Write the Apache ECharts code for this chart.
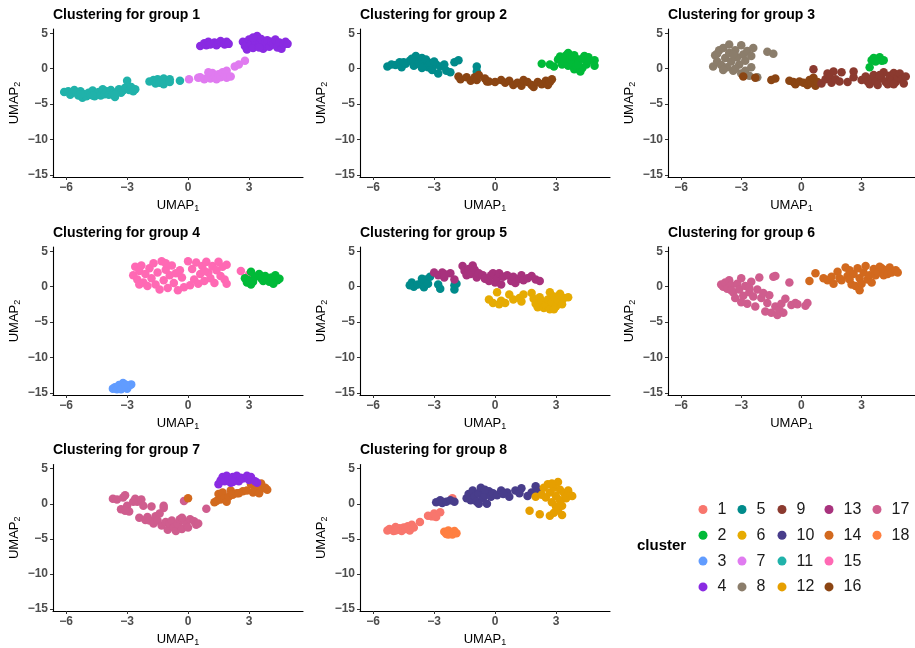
<!DOCTYPE html>
<html>
<head>
<meta charset="utf-8">
<script src="https://cdn.jsdelivr.net/npm/echarts@6/dist/echarts.min.js"></script>
<style>
html,body{margin:0;padding:0;background:#fff;}
#chart{width:915px;height:648px;}
</style>
</head>
<body>
<div id="chart"></div>
<script>
// ---------- DATA ----------
const clusterIds = ['1','2','3','4','5','6','7','8','9','10','11','12','13','14','15','16','17','18'];
const clusterColors = ['#F8766D','#00BA38','#619CFF','#8A2BE2','#008B8B','#E6AB02','#E07BF0','#8B7D6B','#8B3A2F','#483D8B','#20B2AA','#E69F00','#A8327D','#D2691E','#FF69B4','#8B4513','#CF5D8E','#FF7F40'];
const groupTitles = ['Clustering for group 1','Clustering for group 2','Clustering for group 3','Clustering for group 4','Clustering for group 5','Clustering for group 6','Clustering for group 7','Clustering for group 8'];
const xTicks = [-6,-3,0,3];
const yTicks = [-15,-10,-5,0,5];

// group 1
const g1_c11 = [[-6.1,-3.3],[-5.9,-3.2],[-5.8,-3.7],[-5.6,-3.0],[-5.5,-3.4],[-5.4,-3.8],[-5.3,-3.2],[-5.2,-4.1],[-5.1,-3.6],[-5.0,-3.9],[-4.9,-3.4],[-4.8,-3.7],[-4.7,-3.1],[-4.6,-3.9],[-4.5,-3.5],[-4.4,-3.3],[-4.3,-3.8],[-4.2,-2.9],[-4.1,-3.6],[-4.0,-3.2],[-3.9,-3.7],[-3.8,-3.0],[-3.7,-3.5],[-3.6,-4.0],[-3.5,-3.3],[-3.4,-2.9],[-3.3,-3.4],[-3.2,-3.1],[-3.1,-2.7],[-3.0,-1.7],[-2.9,-3.0],[-2.8,-2.6],[-2.7,-3.2],[-2.6,-2.9],[-3.6,-3.6],[-4.7,-3.8],[-5.3,-3.6],[-1.9,-1.8],[-1.7,-1.6],[-1.6,-2.1],[-1.5,-1.5],[-1.4,-2.0],[-1.3,-1.7],[-1.2,-1.4],[-1.2,-2.2],[-0.9,-1.5],[-0.9,-1.9],[-0.4,-1.7]];
const g1_c7 = [[0.05,-1.5],[0.5,-1.3],[0.8,-1.5],[1.0,-1.1],[1.1,-1.4],[1.2,-0.6],[1.3,-1.0],[1.4,-1.5],[1.5,-0.8],[1.6,-1.2],[1.7,-0.5],[1.8,-1.0],[1.9,-0.3],[1.9,-1.3],[2.1,-1.1],[2.3,0.3],[2.5,0.6],[2.8,1.1],[1.0,-0.5],[0.6,-1.2]];
const g1_c4 = [[0.6,3.2],[0.8,3.6],[0.9,3.3],[1.0,3.8],[1.1,3.4],[1.3,3.7],[1.4,3.3],[1.5,3.6],[1.6,3.9],[1.8,3.4],[1.9,3.8],[2.0,3.5],[2.7,3.8],[2.8,3.2],[2.9,2.7],[3.0,4.1],[3.1,3.5],[3.2,2.9],[3.3,3.9],[3.4,4.6],[3.5,3.3],[3.6,4.2],[3.7,2.8],[3.8,3.6],[3.9,4.0],[4.0,3.1],[4.1,3.8],[4.2,3.4],[4.3,4.1],[4.4,3.0],[4.5,3.7],[4.6,2.8],[4.7,3.4],[4.8,3.8],[4.9,3.5],[3.5,3.0],[3.2,4.4]];
// group 2
const g2_c5 = [[-5.3,0.3],[-5.1,0.6],[-4.9,0.5],[-4.7,0.9],[-4.6,0.2],[-4.4,0.7],[-4.2,1.1],[-4.0,0.4],[-3.9,1.8],[-3.8,1.0],[-3.7,0.6],[-3.6,1.5],[-3.5,0.9],[-3.4,1.3],[-3.3,0.2],[-3.2,0.8],[-3.1,-0.2],[-2.9,0.6],[-2.8,-0.7],[-2.7,0.3],[-2.5,0.6],[-2.4,-0.3],[-2.2,-0.5],[-2.0,0.9],[-1.8,1.2],[-0.9,0.3],[-0.9,-0.4],[-4.1,1.4],[-3.6,0.1],[-3.0,1.0],[-4.5,0.9]];
const g2_c16 = [[-1.8,-1.1],[-1.7,-1.5],[-1.4,-1.2],[-1.2,-1.7],[-1.0,-1.2],[-0.9,-1.6],[-0.8,-0.9],[-0.5,-1.4],[-0.3,-1.8],[0.3,-1.6],[0.5,-2.0],[0.7,-1.7],[0.9,-2.3],[1.1,-2.0],[1.3,-2.4],[1.4,-1.6],[1.6,-1.9],[1.8,-2.3],[1.9,-2.6],[2.1,-1.9],[2.3,-2.2],[2.5,-1.7],[2.6,-2.3],[2.7,-1.9],[2.8,-1.5],[-0.4,-1.8],[0.0,-1.9]];
const g2_c2 = [[2.3,0.7],[2.7,0.6],[2.9,0.3],[3.1,1.3],[3.2,1.7],[3.3,0.6],[3.4,1.0],[3.5,1.9],[3.6,2.2],[3.6,0.4],[3.7,1.4],[3.8,0.9],[3.9,1.9],[3.9,-0.1],[4.0,0.4],[4.1,1.3],[4.2,-0.4],[4.3,0.1],[4.4,1.8],[4.5,0.6],[4.6,1.1],[4.9,1.2],[4.9,0.4],[4.1,0.6],[3.8,1.7],[4.3,1.4],[4.6,1.6]];
// group 3
const g3_c8 = [[-4.4,0.3],[-4.3,1.9],[-4.2,1.0],[-4.1,2.6],[-4.0,0.5],[-3.9,2.9],[-3.8,1.5],[-3.7,0.2],[-3.6,3.4],[-3.6,2.2],[-3.5,1.0],[-3.4,-0.3],[-3.3,2.6],[-3.2,1.6],[-3.1,0.6],[-3.0,3.3],[-3.0,-0.7],[-2.9,2.0],[-2.8,1.1],[-2.8,-0.3],[-2.7,2.5],[-2.6,-1.0],[-2.5,0.2],[-2.4,2.9],[-2.2,-1.2],[-1.7,2.4],[-1.4,2.1],[-3.9,-0.2],[-3.4,2.0],[-2.5,1.8],[-4.2,2.1],[-3.3,0.0]];
const g3_c16 = [[-2.9,-1.1],[-2.3,-1.3],[-1.5,-1.6],[-1.3,-1.4],[-0.6,-1.7],[-0.4,-1.9],[-0.3,-2.2],[-0.1,-1.8],[0.1,-2.0],[0.3,-2.3],[0.4,-1.6],[0.5,-2.0],[0.7,-2.4],[0.6,-1.3],[0.8,-1.9]];
const g3_c9 = [[0.6,-0.1],[1.0,-2.1],[1.2,-1.5],[1.3,-0.7],[1.4,-1.1],[1.5,-2.0],[1.6,-0.4],[1.7,-1.5],[1.9,-1.8],[2.0,-0.5],[2.3,-1.9],[2.6,-0.4],[2.6,-1.2],[3.0,-1.6],[3.2,-1.1],[3.3,-1.8],[3.4,-2.2],[3.5,-1.4],[3.6,-0.9],[3.7,-1.8],[3.8,-2.3],[4.0,-1.4],[4.1,-0.5],[4.2,-1.9],[4.3,-2.2],[4.4,-1.0],[4.5,-1.6],[4.6,-0.6],[4.7,-1.9],[4.8,-1.2],[4.9,-0.7],[5.0,-1.5],[5.1,-2.1],[5.2,-1.1],[4.6,-2.2],[3.9,-0.9]];
const g3_c2 = [[3.4,0.2],[3.5,1.2],[3.6,1.5],[3.8,1.3],[3.9,1.6],[4.0,1.1],[4.1,1.2],[3.7,1.0]];
// group 4
const g4_c15 = [[-2.7,1.6],[-2.6,2.8],[-2.5,1.0],[-2.4,2.2],[-2.3,3.0],[-2.2,0.6],[-2.1,1.8],[-2.0,0.1],[-1.9,2.6],[-1.8,1.2],[-1.7,3.3],[-1.6,0.3],[-1.5,2.0],[-1.4,-0.4],[-1.3,3.6],[-1.2,0.9],[-1.1,2.4],[-1.0,-0.2],[-0.9,1.6],[-0.8,3.0],[-0.7,0.5],[-0.6,1.9],[-0.5,-0.5],[-0.4,2.3],[-0.3,1.3],[-0.2,-0.1],[0.0,3.6],[0.1,0.2],[0.2,2.5],[0.3,1.0],[0.4,3.4],[0.5,0.4],[0.6,1.8],[0.7,2.9],[0.8,0.8],[0.9,3.5],[1.0,2.0],[1.1,1.2],[1.2,2.9],[1.3,0.5],[1.4,2.3],[1.5,3.5],[1.6,1.5],[1.7,2.8],[1.8,1.0],[1.9,3.1],[1.9,0.4],[2.6,2.2],[3.0,1.7],[-2.4,0.3],[-1.1,3.3],[0.8,2.2]];
const g4_c2 = [[2.8,1.2],[2.9,0.6],[3.0,0.9],[3.1,2.1],[3.1,0.3],[3.3,1.4],[3.5,1.8],[3.6,1.2],[3.7,0.8],[3.8,1.5],[3.9,1.1],[4.0,0.7],[4.1,1.3],[4.2,1.0],[4.3,1.6],[4.4,0.9],[4.5,1.1],[3.2,0.7],[4.2,0.4]];
const g4_c3 = [[-3.7,-14.4],[-3.6,-14.2],[-3.5,-14.5],[-3.4,-13.9],[-3.3,-14.3],[-3.2,-13.6],[-3.1,-14.1],[-3.0,-14.4],[-2.9,-14.0],[-2.8,-13.8],[-3.3,-14.5],[-3.1,-13.8]];
// group 5
const g5_c5 = [[-4.2,0.2],[-4.1,0.6],[-4.0,0.0],[-3.8,0.3],[-3.6,0.5],[-3.5,-0.1],[-3.4,1.0],[-3.3,0.4],[-3.2,1.4],[-2.8,0.3],[-2.7,-0.3],[-2.0,0.2],[-2.0,-0.4],[-3.6,1.1],[-1.9,0.4]];
const g5_c13 = [[-3.0,2.0],[-2.8,1.6],[-2.6,2.0],[-2.5,1.3],[-2.2,1.9],[-2.0,1.0],[-1.6,2.9],[-1.5,2.2],[-1.4,1.6],[-1.3,2.5],[-1.2,1.8],[-1.1,3.0],[-1.0,2.4],[-0.9,1.3],[-0.8,1.9],[-0.6,1.6],[-0.5,1.1],[-0.3,0.8],[-0.2,1.6],[-0.1,1.9],[0.0,0.6],[0.1,1.2],[0.2,1.9],[0.3,0.3],[0.4,1.4],[0.6,1.6],[0.8,0.8],[0.9,1.4],[1.0,0.5],[1.2,1.1],[1.3,1.6],[1.4,0.9],[1.6,1.2],[1.8,1.5],[2.0,1.0],[2.2,0.8],[-2.5,1.8]];
const g5_c6 = [[-0.3,-1.8],[-0.1,-2.3],[0.1,-0.8],[0.2,-2.5],[0.3,-2.0],[0.5,-2.3],[0.7,-1.1],[0.9,-1.8],[1.2,-1.6],[1.3,-2.1],[1.4,-1.1],[1.8,-0.9],[1.9,-1.7],[2.0,-2.4],[2.1,-2.9],[2.2,-1.5],[2.3,-2.1],[2.4,-3.0],[2.5,-2.6],[2.6,-1.8],[2.7,-3.2],[2.7,-0.8],[2.8,-2.2],[2.9,-1.4],[3.0,-2.8],[3.1,-1.9],[3.2,-1.0],[3.3,-2.5],[3.4,-1.6],[3.6,-1.5],[2.9,-3.2],[3.2,-1.3]];
// group 6
const g6_c17 = [[-4.0,0.3],[-3.9,0.0],[-3.8,0.6],[-3.7,-0.3],[-3.6,0.9],[-3.5,0.2],[-3.4,-0.8],[-3.3,-1.6],[-3.2,0.4],[-3.1,-0.4],[-3.0,1.2],[-2.9,-1.3],[-2.8,0.1],[-2.7,-2.4],[-2.6,-0.8],[-2.5,0.7],[-2.4,-1.4],[-2.3,-2.8],[-2.2,-0.4],[-2.1,1.3],[-2.0,-1.6],[-1.9,-0.9],[-1.8,-3.5],[-1.7,-2.3],[-1.6,-1.2],[-1.5,-3.7],[-1.4,1.4],[-1.3,-2.8],[-1.2,-4.0],[-1.1,-3.3],[-1.0,-2.4],[-0.9,-3.7],[-0.8,-1.7],[-0.6,0.6],[-0.5,-2.6],[-0.3,-2.3],[-0.2,-2.5],[0.2,-2.7],[0.3,-2.3],[-1.3,1.5],[-2.6,-0.2],[-3.5,-0.5],[-3.0,-2.2]];
const g6_c14 = [[0.4,0.8],[0.7,1.9],[1.1,1.2],[1.3,0.9],[1.5,1.4],[1.6,0.4],[1.8,2.1],[1.9,1.2],[2.0,0.9],[2.2,2.7],[2.3,1.5],[2.4,2.3],[2.5,0.3],[2.6,1.8],[2.7,0.1],[2.8,2.6],[2.9,-0.5],[2.9,1.2],[3.0,0.4],[3.1,2.0],[3.2,2.9],[3.3,1.0],[3.4,1.6],[3.5,0.6],[3.6,2.5],[3.7,1.6],[3.8,2.0],[4.0,2.6],[4.1,1.6],[4.2,2.3],[4.3,1.8],[4.4,2.7],[4.5,2.0],[4.7,2.3],[4.8,2.0],[3.9,2.8],[2.4,1.0]];
// group 7
const g7_c17 = [[-3.7,0.7],[-3.5,0.6],[-3.3,-0.8],[-3.2,0.9],[-3.1,1.2],[-3.0,-0.3],[-2.9,-1.1],[-2.6,0.7],[-2.5,0.3],[-2.4,-2.0],[-2.3,0.6],[-2.2,-0.3],[-2.1,-2.3],[-2.0,-1.9],[-1.9,-2.4],[-1.8,-0.4],[-1.7,-2.8],[-1.6,-1.8],[-1.5,-2.4],[-1.4,-1.4],[-1.3,-3.1],[-1.2,-0.6],[-1.1,-2.6],[-1.0,-3.7],[-0.9,-2.8],[-0.8,-2.4],[-0.7,-3.4],[-0.6,-3.9],[-0.5,-2.9],[-0.4,-2.2],[-0.3,-3.6],[-0.2,0.4],[-0.1,-2.7],[0.0,-3.4],[0.1,-2.2],[0.3,-2.5],[0.4,-3.0],[0.5,-2.8],[-0.3,-2.0],[-1.2,-0.3],[-2.7,0.3],[-3.1,-1.0],[0.9,-0.7]];
const g7_c14 = [[0.0,0.8],[1.3,0.2],[1.4,0.4],[1.5,1.4],[1.6,0.6],[1.7,1.6],[1.8,0.8],[1.9,0.3],[2.0,1.0],[2.1,1.9],[2.2,1.3],[2.4,1.5],[2.7,1.8],[2.9,1.9],[3.1,2.8],[3.2,1.6],[3.3,2.1],[3.4,2.6],[3.5,1.5],[3.6,2.9],[3.7,2.2],[3.8,2.3],[3.9,2.0],[2.5,1.5]];
const g7_c4 = [[1.5,2.8],[1.6,3.3],[1.7,3.8],[1.8,3.2],[1.9,4.0],[2.0,3.5],[2.1,3.0],[2.2,3.8],[2.3,3.4],[2.4,4.0],[2.5,3.2],[2.6,3.7],[2.7,3.6],[2.9,4.0],[3.0,3.4],[3.1,3.8],[3.3,3.2],[3.4,3.0],[2.2,3.1]];
// group 8
const g8_c1 = [[-5.3,-3.8],[-5.2,-3.6],[-5.0,-3.9],[-4.9,-3.3],[-4.8,-3.7],[-4.7,-3.5],[-4.6,-3.9],[-4.5,-3.4],[-4.4,-3.6],[-4.3,-3.2],[-4.2,-3.8],[-4.1,-3.0],[-4.0,-3.4],[-3.7,-2.6],[-3.3,-1.7],[-3.1,-1.8],[-3.0,-1.4],[-2.9,-1.9],[-2.7,-1.2],[-2.1,0.8],[-4.9,-3.8]];
const g8_c18 = [[-2.5,-4.0],[-2.4,-4.3],[-2.3,-3.8],[-2.2,-4.1],[-2.1,-4.4],[-2.0,-3.9],[-1.9,-4.2],[-2.3,-4.4]];
const g8_c10 = [[-2.9,0.2],[-2.7,0.5],[-2.6,0.1],[-2.4,0.3],[-2.2,0.5],[-2.0,0.3],[-1.4,0.8],[-1.3,1.4],[-1.2,0.5],[-1.1,1.9],[-1.0,1.0],[-0.9,0.3],[-0.8,1.5],[-0.7,2.3],[-0.6,0.8],[-0.5,1.2],[-0.4,0.0],[-0.3,1.8],[-0.2,1.0],[-0.1,1.5],[0.1,1.2],[0.3,1.9],[0.6,1.6],[0.7,1.0],[1.0,1.9],[1.2,1.5],[1.3,2.2],[1.6,1.1],[1.8,1.6],[2.0,2.5],[2.1,1.8],[-0.8,0.0],[-0.5,2.0],[0.4,1.4]];
const g8_c12 = [[1.7,-1.0],[2.2,-1.5],[2.0,1.0],[2.3,1.3],[2.4,2.3],[2.5,0.9],[2.6,2.8],[2.7,1.6],[2.7,-1.7],[2.8,0.2],[2.9,2.3],[2.9,-1.3],[3.0,1.1],[3.1,3.1],[3.1,-0.9],[3.2,0.5],[3.2,2.0],[3.3,-0.3],[3.3,-1.6],[3.4,1.5],[3.5,0.8],[3.6,1.9],[3.7,1.2],[3.8,1.1],[3.0,-0.4],[2.8,2.9]];

const panelClusters = [
  [['11', g1_c11], ['7', g1_c7], ['4', g1_c4]],
  [['5', g2_c5], ['16', g2_c16], ['2', g2_c2]],
  [['8', g3_c8], ['16', g3_c16], ['9', g3_c9], ['2', g3_c2]],
  [['15', g4_c15], ['2', g4_c2], ['3', g4_c3]],
  [['5', g5_c5], ['13', g5_c13], ['6', g5_c6]],
  [['17', g6_c17], ['14', g6_c14]],
  [['17', g7_c17], ['14', g7_c14], ['4', g7_c4]],
  [['1', g8_c1], ['18', g8_c18], ['10', g8_c10], ['12', g8_c12]]
];
const legendColumns = [['1','2','3','4'],['5','6','7','8'],['9','10','11','12'],['13','14','15','16'],['17','18']];

// ---------- LAYOUT ----------
const FONT = '"Liberation Sans", Arial, Helvetica, sans-serif';
const colLeft = [53, 360, 668];
const colWidth = [250, 250, 247];
const rowTop = [29, 247, 464.5];
const gridH = 148;
const X_MIN = -6.65, X_MAX = 5.66, Y_MIN = -15.3, Y_MAX = 5.6;
const fmt = v => (v < 0 ? '\u2212' + Math.abs(v) : String(v));

const grids = [], xAxes = [], yAxes = [], titles = [], series = [];
const colorOf = id => clusterColors[clusterIds.indexOf(id)];
const usedIds = new Set();

panelClusters.forEach((clusters, i) => {
  const r = Math.floor(i / 3), c = i % 3;
  grids.push({ left: colLeft[c], top: rowTop[r], width: colWidth[c], height: gridH, containLabel: false });
  titles.push({ text: groupTitles[i], left: colLeft[c], top: rowTop[r] - 21, padding: 0,
    textStyle: { fontFamily: FONT, fontSize: 14, fontWeight: 'bold', color: '#000' } });
  const axisCommon = {
    gridIndex: i, type: 'value', splitLine: { show: false },
    axisLine: { show: true, onZero: false, lineStyle: { color: '#000', width: 1.1 } },
    axisTick: { show: true, length: 3, lineStyle: { color: '#333' } },
    nameLocation: 'middle',
    nameTextStyle: { fontFamily: FONT, fontSize: 13, color: '#000',
      rich: { sub: { fontFamily: FONT, fontSize: 9, color: '#000', padding: [7, 0, 0, 0] } } }
  };
  xAxes.push(Object.assign({}, axisCommon, {
    min: X_MIN, max: X_MAX, name: 'UMAP{sub|1}', nameGap: 20,
    axisTick: Object.assign({}, axisCommon.axisTick, { customValues: xTicks }),
    axisLabel: { customValues: xTicks, formatter: fmt, margin: 5, fontFamily: FONT, fontSize: 12, fontWeight: 'bold', color: '#4D4D4D' }
  }));
  yAxes.push(Object.assign({}, axisCommon, {
    min: Y_MIN, max: Y_MAX, name: 'UMAP{sub|2}', nameGap: 31,
    axisTick: Object.assign({}, axisCommon.axisTick, { customValues: yTicks }),
    axisLabel: { customValues: yTicks, formatter: fmt, margin: 5, fontFamily: FONT, fontSize: 12, fontWeight: 'bold', color: '#4D4D4D' }
  }));
  clusters.forEach(([id, pts]) => {
    usedIds.add(id);
    series.push({ name: id, type: 'scatter', xAxisIndex: i, yAxisIndex: i, data: pts,
      symbol: 'circle', symbolSize: 8.5, itemStyle: { color: colorOf(id), opacity: 1 }, silent: true });
  });
});
// legend-only series for clusters absent from all panels
clusterIds.forEach(id => {
  if (!usedIds.has(id)) series.push({ name: id, type: 'scatter', xAxisIndex: 0, yAxisIndex: 0, data: [],
    itemStyle: { color: colorOf(id) } });
});

titles.push({ text: 'cluster', left: 637, top: 538, padding: 0,
  textStyle: { fontFamily: FONT, fontSize: 15, fontWeight: 'bold', color: '#000' } });

const legendX = [698.5, 737.5, 777.5, 824.5, 872.5];
const legends = legendColumns.map((col, k) => ({
  data: col.map(id => ({ name: id, icon: 'circle', itemStyle: { color: colorOf(id) } })),
  orient: 'vertical', left: legendX[k], top: 501.5, padding: 0,
  itemWidth: 9, itemHeight: 9, itemGap: 9.8, selectedMode: false,
  textStyle: { fontFamily: FONT, fontSize: 16, color: '#1a1a1a', lineHeight: 15, padding: [0, 0, 0, 5] }
}));

const chart = echarts.init(document.getElementById('chart'), null, { renderer: 'canvas' });
chart.setOption({
  animation: false,
  backgroundColor: '#fff',
  title: titles,
  legend: legends,
  grid: grids,
  xAxis: xAxes,
  yAxis: yAxes,
  series: series
});
</script>
</body>
</html>
